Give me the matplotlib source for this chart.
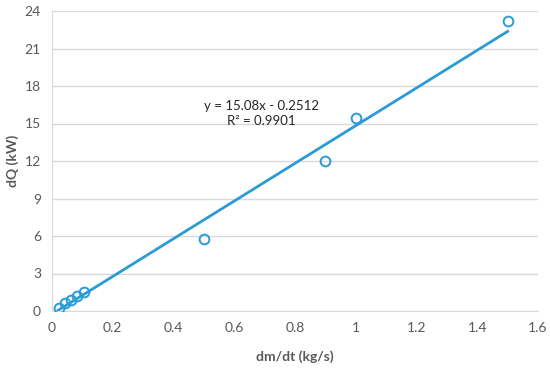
import numpy as np
import matplotlib
matplotlib.use("Agg")
import matplotlib.pyplot as plt

plt.rcParams['font.family'] = ['Lato', 'DejaVu Sans']

mass_flow = [0.022, 0.043, 0.062, 0.083, 0.105, 0.5, 0.9, 1.0, 1.5]
heat = [0.27, 0.61, 0.88, 1.2, 1.55, 5.76, 12.0, 15.44, 23.2]
slope = 15.08
intercept = -0.2512
r2 = 0.9901
x_ticks = [0, 0.2, 0.4, 0.6, 0.8, 1, 1.2, 1.4, 1.6]
x_tick_labels = ["0", "0.2", "0.4", "0.6", "0.8", "1", "1.2", "1.4", "1.6"]
y_ticks = [0, 3, 6, 9, 12, 15, 18, 21, 24]

blue = "#2B9BD8"
gray = "#595959"

fig = plt.figure(figsize=(5.5, 3.69), dpi=100)
ax = fig.add_axes([52/550, 1-311/369, (538-52)/550, 300/369])

xl = np.linspace(0.02, 1.5, 100)
ax.plot(xl, slope*xl + intercept, color=blue, lw=2.0, zorder=2)
ax.plot(mass_flow, heat, 'o', mfc='none', mec=blue, mew=1.4, ms=7, zorder=3)

ax.set_xlim(0, 1.6)
ax.set_ylim(0, 24)
ax.set_xticks(x_ticks)
ax.set_xticklabels(x_tick_labels)
ax.set_yticks(y_ticks)
ax.tick_params(length=0, labelsize=10, colors=gray, pad=8)
ax.grid(axis='y', color='#D9D9D9', lw=1)
ax.set_axisbelow(True)
for s in ['top', 'right']:
    ax.spines[s].set_visible(False)
for s in ['left', 'bottom']:
    ax.spines[s].set_color('#D9D9D9')

ax.set_xlabel("dm/dt (kg/s)", fontsize=10, fontweight='bold', color=gray, labelpad=12)
ax.set_ylabel("dQ (kW)", fontsize=10, fontweight='bold', color=gray, labelpad=4)

ax.text(0.69, 15.8, f"y = {slope}x - {abs(intercept)}\nR² = {r2}", ha='center', va='center',
        fontsize=9.5, color='#262626', linespacing=1.3)

fig.savefig("out.png", dpi=100)
